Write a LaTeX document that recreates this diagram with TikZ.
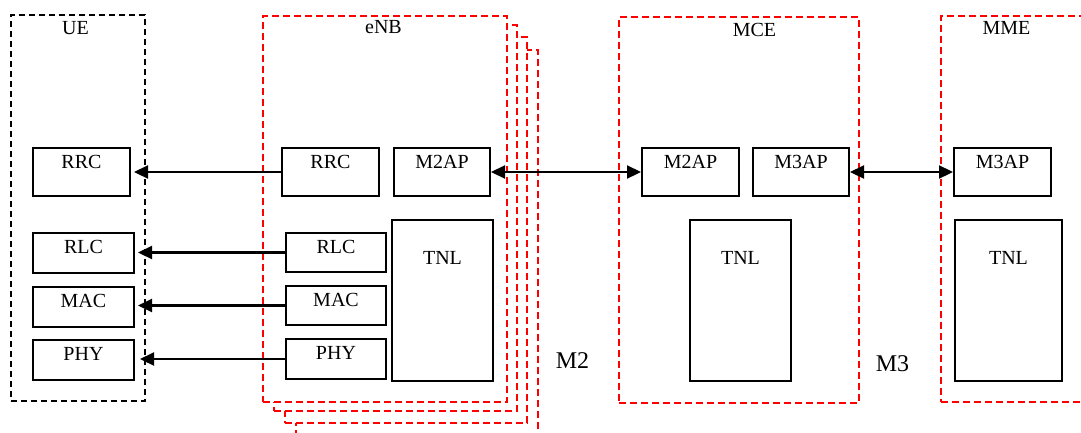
\documentclass[tikz,border=0pt]{standalone}
\usepackage{fontspec}
\setmainfont{Liberation Serif}
\usetikzlibrary{arrows.meta,calc}
\newcommand\fsmain{\fontsize{20}{22}\selectfont}
\newcommand\fsbig{\fontsize{24}{26}\selectfont}
\tikzset{
  blk/.style={draw, line width=2pt, inner sep=0pt, anchor=north west, font=\fsmain, text height=20pt},
  redbox/.style={draw=red, fill=white, line width=2pt, dash pattern=on 7pt off 4pt, inner sep=0pt, anchor=north west},
  blackbox/.style={draw=black, line width=2pt, dash pattern=on 6pt off 4pt, inner sep=0pt, anchor=north west},
  lbl/.style={anchor=base, font=\fsmain, inner sep=0pt},
  biglbl/.style={anchor=base, font=\fsbig, inner sep=0pt},
  arr/.style={line width=2.2pt, -{Triangle[length=14pt,width=13pt]}},
  darr/.style={line width=2.2pt, {Triangle[length=14pt,width=13pt]}-{Triangle[length=14pt,width=13pt]}},
}
\begin{document}
\begin{tikzpicture}[x=1pt,y=-1pt]
\useasboundingbox (0,0) rectangle (1081,432);

% UE container
\node[blackbox, minimum width=134pt, minimum height=386pt] (ue) at (10,14) {};
\node[lbl] (uelbl) at (75.5,34) {UE};

% eNB stacked containers
\node[redbox, minimum width=242pt, minimum height=390pt] (enb4) at (295,49) {};
\node[redbox, minimum width=242pt, minimum height=386pt] (enb3) at (284,36) {};
\node[redbox, minimum width=243pt, minimum height=386pt] (enb2) at (273,24) {};
\node[redbox, minimum width=244pt, minimum height=386pt] (enb) at (262,15) {};
\node[lbl] (enblbl) at (383.5,33) {eNB};

% MCE container
\node[redbox, minimum width=240pt, minimum height=386pt] (mce) at (618,16) {};
\node[lbl] (mcelbl) at (754.5,36) {MCE};

% MME container
\node[redbox, minimum width=160pt, minimum height=386pt] (mme) at (940,15) {};
\node[lbl] (mmelbl) at (1006.5,34) {MME};

% UE blocks
\node[blk, minimum width=97pt, text depth=28pt] (ueRRC) at (32,147) {RRC};
\node[blk, minimum width=101pt, text depth=20pt] (ueRLC) at (32,232) {RLC};
\node[blk, minimum width=101pt, text depth=20pt] (ueMAC) at (32,286) {MAC};
\node[blk, minimum width=101pt, text depth=20pt] (uePHY) at (32,339) {PHY};

% eNB blocks
\node[blk, minimum width=97pt, text depth=28pt] (enbRRC) at (281,147) {RRC};
\node[blk, minimum width=96pt, text depth=28pt] (enbM2AP) at (393,147) {M2AP};
\node[blk, minimum width=100pt, text depth=19pt] (enbRLC) at (285,232) {RLC};
\node[blk, minimum width=100pt, text depth=19pt] (enbMAC) at (285,285) {MAC};
\node[blk, minimum width=100pt, text depth=20pt] (enbPHY) at (285,338) {PHY};
\node[blk, minimum width=101pt, text height=44pt, text depth=117pt] (enbTNL) at (391,219) {TNL};

% MCE blocks
\node[blk, minimum width=97pt, text depth=28pt] (mceM2AP) at (641,147) {M2AP};
\node[blk, minimum width=96pt, text depth=28pt] (mceM3AP) at (752,147) {M3AP};
\node[blk, minimum width=101pt, text height=44pt, text depth=117pt] (mceTNL) at (689,219) {TNL};

% MME blocks
\node[blk, minimum width=97pt, text depth=28pt] (mmeM3AP) at (953,147) {M3AP};
\node[blk, minimum width=107pt, text height=44pt, text depth=117pt] (mmeTNL) at (954,219) {TNL};

% interface labels
\node[biglbl] (m2lbl) at (572.5,368) {M2};
\node[biglbl] (m3lbl) at (892.5,371) {M3};

% connectors
\draw[arr] (enbRRC.west) -- ($(enbRRC.west -| ueRRC.east)+(3,0)$);
\draw[arr] (enbRLC.west) -- ($(enbRLC.west -| ueRLC.east)+(3,0)$);
\draw[arr] (enbMAC.west) -- ($(enbMAC.west -| ueMAC.east)+(3,0)$);
\draw[arr] (enbPHY.west) -- ($(enbPHY.west -| uePHY.east)+(5,0)$);
\draw[darr] (enbM2AP.east) -- (mceM2AP.west);
\draw[darr] (mceM3AP.east) -- (mmeM3AP.west);
\end{tikzpicture}
\end{document}
